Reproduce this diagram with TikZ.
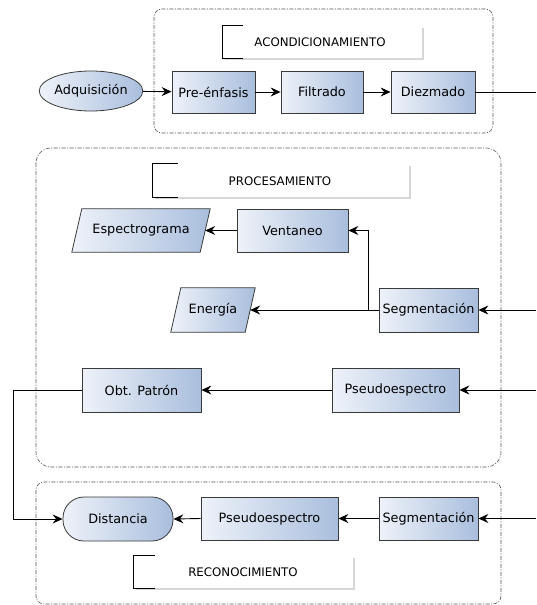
\documentclass[tikz,border=0pt]{standalone}
\usepackage{fontspec}
\setmainfont{DejaVu Sans}
\usetikzlibrary{arrows.meta,shadows,shapes.geometric}
\definecolor{lightb}{HTML}{EEF2F9}
\definecolor{darkb}{HTML}{A9BEDD}
\definecolor{edgec}{HTML}{3A3A3A}
\definecolor{grpc}{HTML}{555555}
\begin{document}
\begin{tikzpicture}[x=1pt,y=-1pt,
  boxfill/.style={left color=lightb, right color=darkb, draw=edgec, line width=0.8pt},
  procbox/.style={boxfill, rectangle, inner sep=0pt, font=\fontsize{12.8}{15}\selectfont},
  plain/.style={rectangle, inner sep=0pt, font=\fontsize{12.8}{15}\selectfont},
  grp/.style={draw=grpc, line width=0.6pt, dash pattern=on 4pt off 1.5pt on 1pt off 1.5pt},
  lbl/.style={rectangle, fill=white, inner sep=0pt, font=\fontsize{11.8}{14}\selectfont,
     drop shadow={shadow xshift=1.5pt, shadow yshift=-1.8pt, opacity=0.35, fill=black!45}},
  conn/.style={line width=0.9pt, black},
  arr/.style={conn, -{Stealth[length=10pt,width=9pt,inset=3.5pt]}}
]
\useasboundingbox (0,0) rectangle (536,605);
\fill[white] (0,0) rectangle (536,605);

% group frames
\draw[grp, rounded corners=8pt] (154,9) rectangle (493,133);
\draw[grp, rounded corners=15pt] (36,148) rectangle (501,467);
\draw[grp, rounded corners=8pt] (36,482) rectangle (501,604);

% label boxes
\node[lbl, minimum width=199pt, minimum height=32pt] (lacond) at (322.5,42) {};
\node[font=\fontsize{11.8}{14}\selectfont] (tacond) at (320,42) {ACONDICIONAMIENTO};
\draw[conn] ([xshift=20pt]lacond.north west) -- (lacond.north west) -- (lacond.south west) -- ([xshift=20pt]lacond.south west);

\node[lbl, minimum width=256pt, minimum height=33pt] (lproc) at (281,180.5) {};
\node[font=\fontsize{11.8}{14}\selectfont] (tproc) at (280,181) {PROCESAMIENTO};
\draw[conn] ([xshift=25pt]lproc.north west) -- (lproc.north west) -- (lproc.south west) -- ([xshift=25pt]lproc.south west);

\node[lbl, minimum width=219pt, minimum height=32pt] (lrec) at (243.5,572) {};
\node[font=\fontsize{11.8}{14}\selectfont] (trec) at (243,572) {RECONOCIMIENTO};
\draw[conn] ([xshift=21pt]lrec.north west) -- (lrec.north west) -- (lrec.south west) -- ([xshift=21pt]lrec.south west);

% acondicionamiento
\node[boxfill, ellipse, inner sep=0pt, minimum width=84pt, minimum height=40pt, font=\fontsize{12.8}{15}\selectfont] (adq) at (91,91) {Adquisición};
\node[procbox, minimum width=83pt, minimum height=42pt] (pre) at (213.5,92) {Pre-énfasis};
\node[procbox, minimum width=82pt, minimum height=42pt] (fil) at (322,92) {Filtrado};
\node[procbox, minimum width=84pt, minimum height=42pt] (die) at (433,92) {Diezmado};
\coordinate (outA) at (536,92);
\draw[arr] (adq) -- (pre);
\draw[arr] (pre) -- (fil);
\draw[arr] (fil) -- (die);
\draw[conn] (die) -- (outA);

% procesamiento
\node[plain, minimum width=128pt, minimum height=43pt] (esp) at (141,230.5) {Espectrograma};
\path[boxfill] ([xshift=5pt]esp.north west) -- ([xshift=5pt]esp.north east) -- ([xshift=-5pt]esp.south east) -- ([xshift=-5pt]esp.south west) -- cycle;
\node[plain] at (esp) {Espectrograma};
\node[procbox, minimum width=111pt, minimum height=43pt] (ven) at (292.5,230.5) {Ventaneo};
\node[procbox, minimum width=99pt, minimum height=44pt] (seg) at (428.5,310) {Segmentación};
\node[plain, minimum width=74pt, minimum height=44pt] (ene) at (213,310) {Energía};
\path[boxfill] ([xshift=5pt]ene.north west) -- ([xshift=5pt]ene.north east) -- ([xshift=-5pt]ene.south east) -- ([xshift=-5pt]ene.south west) -- cycle;
\node[plain] at (ene) {Energía};
\node[procbox, minimum width=119pt, minimum height=44pt] (obt) at (141.5,390) {Obt. Patrón};
\node[procbox, minimum width=127pt, minimum height=44pt] (pse) at (395.5,390) {Pseudoespectro};

\coordinate (inS) at (536,310);
\coordinate (inP) at (536,390);
\coordinate (br) at (368,310);
\coordinate (lft) at (13,390);
\draw[arr] (inS) -- (seg.east);
\draw[arr] (seg.west) -- (ene.east);
\draw[arr] (br) |- (ven.east);
\draw[arr] (ven.west) -- (esp.east);
\draw[arr] (inP) -- (pse.east);
\draw[arr] (pse.west) -- (obt.east);

% reconocimiento
\node[boxfill, rectangle, rounded corners=21pt, inner sep=0pt, minimum width=110pt, minimum height=44pt, font=\fontsize{12.8}{15}\selectfont] (dis) at (118,519) {Distancia};
\node[procbox, minimum width=137pt, minimum height=43pt] (pse2) at (269.5,518.5) {Pseudoespectro};
\node[procbox, minimum width=99pt, minimum height=43pt] (seg2) at (428.5,518.5) {Segmentación};
\coordinate (inR) at (536,518.5);
\draw[arr] (inR) -- (seg2.east);
\draw[arr] (seg2.west) -- (pse2.east);
\draw[arr] (pse2.west) -- (dis.east);
\draw[arr] (obt.west) -- (lft) |- (dis.west);
\end{tikzpicture}
\end{document}
